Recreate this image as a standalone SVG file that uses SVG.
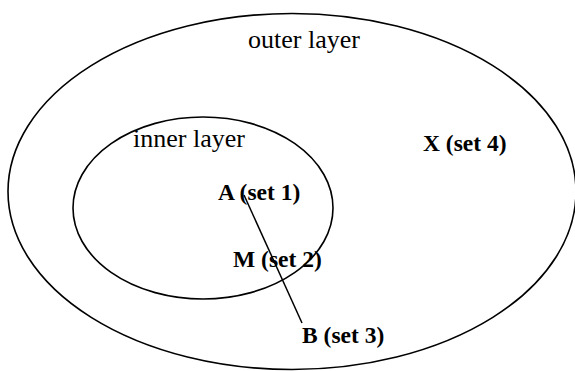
<svg xmlns="http://www.w3.org/2000/svg" width="575" height="371" viewBox="0 0 575 371">
<style>
.layer{fill:none;stroke:#000;stroke-width:1.6}
.lbl{font-family:"Liberation Serif","Times New Roman",serif;font-size:26px;fill:#000}
.set{font-family:"Liberation Serif","Times New Roman",serif;font-size:23.5px;font-weight:bold;fill:#000}
.conn{stroke:#000;stroke-width:1.5;fill:none}
</style>
<rect x="0" y="0" width="575" height="371" fill="#fff"/>
<g id="outer-layer">
<ellipse class="layer" cx="292" cy="191.5" rx="284" ry="178"/>
<text class="lbl" x="248" y="48">outer layer</text>
</g>
<g id="inner-layer">
<ellipse class="layer" cx="203" cy="208" rx="130" ry="91"/>
<text class="lbl" x="133" y="147">inner layer</text>
</g>
<g id="connectors">
<line class="conn" x1="244" y1="195" x2="302" y2="323"/>
</g>
<g id="set4"><text class="set" x="423" y="151">X (set 4)</text></g>
<g id="set1"><text class="set" x="218" y="200">A (set 1)</text></g>
<g id="set2"><text class="set" x="233" y="267">M (set 2)</text></g>
<g id="set3"><text class="set" x="302" y="343">B (set 3)</text></g>
</svg>
